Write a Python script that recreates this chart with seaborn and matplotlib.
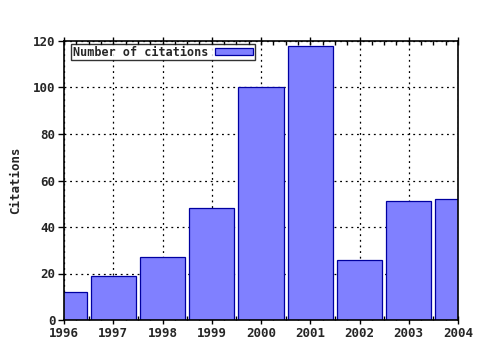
import matplotlib
matplotlib.use("Agg")
import matplotlib.pyplot as plt
from matplotlib.ticker import MultipleLocator
import seaborn as sns
import pandas as pd

years = [1996, 1997, 1998, 1999, 2000, 2001, 2002, 2003, 2004]
citations = [12, 19, 27, 48, 100, 118, 26, 51, 52]
series_label = "Number of citations"
y_label = "Citations"

sns.set_theme(style="white")
plt.rcParams['font.family'] = ['DejaVu Sans Mono', 'DejaVu Sans']
plt.rcParams['font.weight'] = 'bold'

df = pd.DataFrame({"year": years, "citations": citations})

fig = plt.figure(figsize=(4.8, 3.5), dpi=100)
ax = fig.add_axes([64/480, 1-320/350, (458-64)/480, (320-41)/350])

ax.grid(True, which='major', color='black', linestyle=(0, (1.5, 3)), linewidth=0.9)
ax.set_axisbelow(True)

sns.barplot(data=df, x="year", y="citations", ax=ax, native_scale=True,
            color="#8080ff", saturation=1, width=0.92,
            edgecolor="#0000a0", linewidth=0.9, label=series_label)

ax.set_xlim(1996, 2004)
ax.set_ylim(0, 120)
ax.set_xticks(years)
ax.set_xticklabels([str(y) for y in years], fontsize=9, fontweight='bold')
ax.xaxis.set_minor_locator(MultipleLocator(0.25))
ax.set_yticks(range(0, 121, 20))
ax.set_yticklabels([str(v) for v in range(0, 121, 20)], fontsize=9, fontweight='bold')
ax.set_xlabel("")
ax.set_ylabel(y_label, fontsize=9, fontweight='bold', labelpad=8)

for s in ax.spines.values():
    s.set_color('black')
    s.set_linewidth(1.2)
    s.set_zorder(5)

ax.tick_params(axis='x', which='major', direction='inout', length=6, width=1, color='black', top=True, bottom=True, pad=2)
ax.tick_params(axis='x', which='minor', direction='in', length=3, width=1, color='black', top=True, bottom=True)
ax.tick_params(axis='y', which='major', direction='out', length=4, width=1, color='black', left=True, right=False, pad=2)

leg = ax.legend(loc='upper left', bbox_to_anchor=(0.018, 0.99), frameon=True, fancybox=False,
                markerfirst=False,
                prop={'family': 'DejaVu Sans Mono', 'weight': 'bold', 'size': 8.5},
                borderpad=0.15, handlelength=3.2, handleheight=0.6, borderaxespad=0,
                handletextpad=0.6)
leg.get_frame().set_edgecolor('black')
leg.get_frame().set_linewidth(1.0)
leg.set_zorder(6)

fig.savefig("out.png", dpi=100)
